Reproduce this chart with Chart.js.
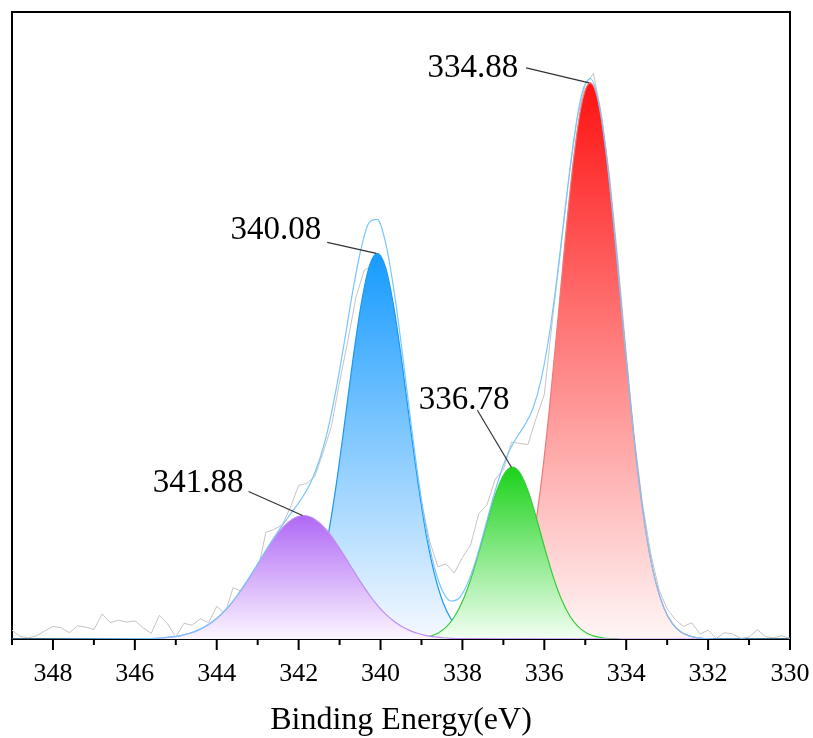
<!DOCTYPE html>
<html>
<head>
<meta charset="utf-8">
<script src="https://cdn.jsdelivr.net/npm/chart.js@4.4.1/dist/chart.umd.min.js"></script>
<style>
  html, body { margin: 0; padding: 0; background: #fff; }
  canvas { display: block; }
</style>
</head>
<body>
<canvas id="xps" width="813" height="738"></canvas>
<script>
// measured spectrum (grey)
const rawEnergy = [
  349.0, 348.8, 348.6, 348.4, 348.2, 348.0, 347.8, 347.6, 347.4, 347.2,
  347.0, 346.8, 346.6, 346.4, 346.2, 346.0, 345.8, 345.6, 345.4, 345.2,
  345.0, 344.8, 344.6, 344.4, 344.2, 344.0, 343.8, 343.6, 343.4, 343.2,
  343.0, 342.8, 342.6, 342.4, 342.2, 342.0, 341.8, 341.6, 341.4, 341.2,
  341.0, 340.8, 340.6, 340.4, 340.2, 340.0, 339.8, 339.6, 339.4, 339.2,
  339.0, 338.8, 338.6, 338.4, 338.2, 338.0, 337.8, 337.6, 337.4, 337.2,
  337.0, 336.8, 336.6, 336.4, 336.2, 336.0, 335.8, 335.6, 335.4, 335.2,
  335.0, 334.8, 334.6, 334.4, 334.2, 334.0, 333.8, 333.6, 333.4, 333.2,
  333.0, 332.8, 332.6, 332.4, 332.2, 332.0, 331.8, 331.6, 331.4, 331.2,
  331.0, 330.8, 330.6, 330.4, 330.2, 330.0
];
const rawCounts = [
  1.4, 0.4, 0.2, 0.5, 1.3, 2.0, 1.8, 1.0, 2.1, 1.9,
  1.5, 4.0, 2.6, 3.0, 2.7, 2.9, 1.8, 0.9, 3.8, 2.4,
  0.3, 2.5, 2.2, 3.2, 2.6, 5.2, 4.0, 8.2, 7.6, 9.4,
  10.8, 17.0, 17.5, 18.2, 21.0, 24.5, 24.8, 26.0, 29.8, 33.9,
  41.0, 47.5, 54.5, 58.8, 59.5, 59.0, 56.0, 48.5, 39.5, 30.0,
  22.0, 15.6, 11.5, 12.0, 10.5, 13.0, 15.0, 20.0, 21.4, 25.5,
  27.0, 31.4, 31.2, 31.0, 35.2, 39.0, 51.0, 62.0, 73.5, 83.0,
  88.4, 90.2, 83.5, 73.5, 60.2, 45.6, 32.0, 21.5, 13.6, 7.9,
  4.8, 3.1, 2.0, 2.6, 0.8, 1.4, 0.1, 1.0, 0.8, 0.1,
  0.3, 1.5, 0.4, 0.2, 0.5, 0.1
];

// fitted envelope (light blue)
const envEnergy = [
  349.0,
  345.68, 345.48, 345.28, 345.08, 344.88, 344.68, 344.48, 344.28, 344.08, 343.88,
  343.68, 343.48, 343.28, 343.08, 342.88, 342.68, 342.48, 342.28, 342.08, 341.88,
  341.68, 341.48, 341.28, 341.08, 340.88, 340.68, 340.48, 340.28, 340.08, 339.88,
  339.68, 339.48, 339.28, 339.08, 338.88, 338.68, 338.48, 338.28, 338.08, 337.88,
  337.68, 337.48, 337.28, 337.08, 336.88, 336.68, 336.48, 336.28, 336.08, 335.88,
  335.68, 335.48, 335.28, 335.08, 334.88, 334.68, 334.48, 334.28, 334.08, 333.88,
  333.68, 333.48, 333.28, 333.08, 332.88, 332.68, 332.48, 332.28, 332.08, 331.88,
  330.0
];
const envCounts = [
  0,
  0.06, 0.11, 0.20, 0.33, 0.55, 0.87, 1.33, 1.98, 2.86, 4.00,
  5.42, 7.10, 9.02, 11.10, 13.27, 15.39, 17.39, 19.22, 20.98, 22.89,
  25.33, 28.78, 33.57, 39.96, 47.52, 55.40, 62.12, 66.40, 66.92, 63.30,
  55.96, 46.28, 35.68, 25.69, 17.35, 11.32, 7.58, 6.06, 6.54, 8.77,
  12.39, 16.97, 21.81, 26.20, 29.65, 32.10, 34.11, 36.73, 41.32, 48.49,
  58.17, 69.29, 79.66, 87.04, 89.39, 85.90, 77.02, 64.45, 50.22, 36.5,
  24.7, 15.5, 9.11, 4.98, 2.53, 1.20, 0.53, 0.22, 0.08, 0.03,
  0
];

// fitted components
const redEnergy = [
  337.88, 337.68, 337.48, 337.28, 337.08, 336.88, 336.68, 336.48, 336.28, 336.08,
  335.88, 335.68, 335.48, 335.28, 335.08, 334.88, 334.68, 334.48, 334.28, 334.08,
  333.88, 333.68, 333.48, 333.28, 333.08, 332.88, 332.68, 332.48, 332.28, 332.08, 331.88
];
const redCounts = [
  0.03, 0.08, 0.22, 0.53, 1.20, 2.53, 4.98, 9.11, 15.5, 24.7,
  36.5, 50.2, 64.4, 76.9, 85.6, 88.7, 85.6, 76.9, 64.4, 50.2,
  36.5, 24.7, 15.5, 9.11, 4.98, 2.53, 1.20, 0.53, 0.22, 0.08, 0.03
];
const blueEnergy = [
  342.88, 342.68, 342.48, 342.28, 342.08, 341.88, 341.68, 341.48, 341.28, 341.08,
  340.88, 340.68, 340.48, 340.28, 340.08, 339.88, 339.68, 339.48, 339.28, 339.08,
  338.88, 338.68, 338.48, 338.28, 338.08, 337.88, 337.68, 337.48, 337.28
];
const blueCounts = [
  0.05, 0.13, 0.32, 0.74, 1.59, 3.19, 5.94, 10.3, 16.5, 24.7,
  34.3, 44.3, 53.1, 59.3, 61.5, 59.3, 53.1, 44.3, 34.3, 24.7,
  16.5, 10.3, 5.94, 3.19, 1.59, 0.74, 0.32, 0.13, 0.05
];
const greenEnergy = [
  339.38, 339.18, 338.98, 338.78, 338.58, 338.38, 338.18, 337.98, 337.78, 337.58,
  337.38, 337.18, 336.98, 336.78, 336.58, 336.38, 336.18, 335.98, 335.78, 335.58,
  335.38, 335.18, 334.98, 334.78, 334.58, 334.38, 334.18
];
const greenCounts = [
  0.03, 0.08, 0.20, 0.46, 1.01, 2.01, 3.71, 6.30, 9.87, 14.26,
  18.98, 23.3, 26.3, 27.4, 26.3, 23.3, 18.98, 14.26, 9.87, 6.30,
  3.71, 2.01, 1.01, 0.46, 0.20, 0.08, 0.03
];
const purpleEnergy = [
  345.68, 345.48, 345.28, 345.08, 344.88, 344.68, 344.48, 344.28, 344.08, 343.88,
  343.68, 343.48, 343.28, 343.08, 342.88, 342.68, 342.48, 342.28, 342.08, 341.88,
  341.68, 341.48, 341.28, 341.08, 340.88, 340.68, 340.48, 340.28, 340.08, 339.88,
  339.68, 339.48, 339.28, 339.08, 338.88, 338.68, 338.48, 338.28, 338.08, 332.0
];
const purpleCounts = [
  0.06, 0.11, 0.20, 0.33, 0.55, 0.87, 1.33, 1.98, 2.86, 4.00,
  5.42, 7.10, 9.02, 11.10, 13.22, 15.26, 17.07, 18.48, 19.39, 19.7,
  19.39, 18.48, 17.07, 15.26, 13.22, 11.10, 9.02, 7.10, 5.42, 4.00,
  2.86, 1.98, 1.33, 0.87, 0.55, 0.33, 0.20, 0.11, 0.06, 0
];

// peak labels
const peakLabels = ['334.88', '340.08', '336.78', '341.88'];
const peakEnergy = [334.88, 340.08, 336.78, 341.88];
const peakCounts = [88.7, 61.5, 27.4, 19.7];

const xTicks = [348, 346, 344, 342, 340, 338, 336, 334, 332, 330];

const pts = (xs, ys) => xs.map((x, i) => ({ x: x, y: ys[i] }));

// gradient fill from the peak top down to the baseline
function peakFill(top, bottom, peak) {
  return (c) => {
    const chart = c.chart;
    const area = chart.chartArea;
    if (!area) return top;
    const yTop = chart.scales.y.getPixelForValue(peak);
    const g = chart.ctx.createLinearGradient(0, yTop, 0, area.bottom);
    g.addColorStop(0, top);
    g.addColorStop(1, bottom);
    return g;
  };
}

// frame + tick marks
const framePlugin = {
  id: 'frame',
  beforeDatasetsDraw(chart) {
    const { ctx, chartArea: a } = chart;
    ctx.save();
    ctx.strokeStyle = '#000';
    ctx.lineWidth = 2;
    ctx.strokeRect(a.left, a.top, a.right - a.left, a.bottom - a.top);
    const sx = chart.scales.x;
    sx.ticks.forEach(t => {
      const px = sx.getPixelForValue(t.value);
      const len = t.value % 2 === 0 ? 11 : 6;
      ctx.beginPath();
      ctx.moveTo(px, a.bottom);
      ctx.lineTo(px, a.bottom + len);
      ctx.stroke();
    });
    ctx.restore();
  }
};

// peak value callouts
const calloutOffsets = [
  { tx: -72, ty: -15, lx: -64, ly: -15 },
  { tx: -56, ty: -23, lx: -50, ly: -11 },
  { tx: -3, ty: -67, lx: -35, ly: -57 },
  { tx: -60, ty: -32, lx: -55, ly: -24 }
];
const calloutPlugin = {
  id: 'callouts',
  afterDatasetsDraw(chart) {
    const { ctx } = chart;
    const sx = chart.scales.x, sy = chart.scales.y;
    ctx.save();
    ctx.font = '33px "Liberation Serif", "Times New Roman", serif';
    ctx.textAlign = 'right';
    ctx.textBaseline = 'middle';
    peakLabels.forEach((lbl, i) => {
      const px = sx.getPixelForValue(peakEnergy[i]);
      const py = sy.getPixelForValue(peakCounts[i]);
      const o = calloutOffsets[i];
      ctx.strokeStyle = '#333';
      ctx.lineWidth = 1.2;
      ctx.beginPath();
      ctx.moveTo(px + o.lx, py + o.ly);
      ctx.lineTo(px - 1, py);
      ctx.stroke();
      ctx.fillStyle = '#000';
      ctx.fillText(lbl, px + o.tx, py + o.ty);
    });
    ctx.restore();
  }
};

const lineBase = {
  pointRadius: 0,
  borderWidth: 1.2,
  cubicInterpolationMode: 'monotone'
};

new Chart(document.getElementById('xps'), {
  type: 'line',
  data: {
    datasets: [
      Object.assign({}, lineBase, {
        label: 'Envelope',
        data: pts(envEnergy, envCounts),
        borderColor: '#78c6ff',
        fill: false
      }),
      Object.assign({}, lineBase, {
        label: '341.88',
        data: pts(purpleEnergy, purpleCounts),
        borderColor: '#bf8cf2',
        backgroundColor: peakFill('rgb(176,104,245)', 'rgb(251,246,255)', 19.7),
        fill: 'origin'
      }),
      Object.assign({}, lineBase, {
        label: '336.78',
        data: pts(greenEnergy, greenCounts),
        borderColor: '#36cc36',
        backgroundColor: peakFill('rgb(26,210,26)', 'rgb(243,255,243)', 27.4),
        fill: 'origin'
      }),
      Object.assign({}, lineBase, {
        label: '340.08',
        data: pts(blueEnergy, blueCounts),
        borderColor: '#1a98f2',
        backgroundColor: peakFill('rgb(22,155,255)', 'rgb(246,249,255)', 61.5),
        fill: 'origin'
      }),
      Object.assign({}, lineBase, {
        label: '334.88',
        data: pts(redEnergy, redCounts),
        borderColor: '#f07a7a',
        backgroundColor: peakFill('rgb(255,18,18)', 'rgb(255,246,246)', 88.7),
        fill: 'origin'
      }),
      {
        label: 'Raw',
        data: pts(rawEnergy, rawCounts),
        borderColor: '#c4c4c4',
        borderWidth: 1,
        pointRadius: 0,
        tension: 0,
        fill: false
      }
    ]
  },
  options: {
    responsive: false,
    animation: false,
    layout: { padding: { left: 12, right: 23, top: 12, bottom: 0 } },
    plugins: {
      legend: { display: false },
      tooltip: { enabled: false }
    },
    scales: {
      x: {
        type: 'linear',
        min: 330,
        max: 349,
        reverse: true,
        grid: { display: false, drawTicks: false },
        border: { display: false },
        afterFit(scale) {
          scale.height = 99;
          scale.paddingLeft = 0;
          scale.paddingRight = 0;
        },
        ticks: {
          stepSize: 1,
          autoSkip: false,
          maxRotation: 0,
          padding: 20,
          color: '#000',
          font: { family: '"Liberation Serif", "Times New Roman", serif', size: 26 },
          callback: (v) => xTicks.includes(v) ? String(v) : ''
        },
        title: {
          display: true,
          text: 'Binding Energy(eV)',
          color: '#000',
          padding: { top: 0, bottom: 0 },
          font: { family: '"Liberation Serif", "Times New Roman", serif', size: 32, lineHeight: 1.1 }
        }
      },
      y: {
        display: false,
        min: 0,
        max: 100
      }
    }
  },
  plugins: [framePlugin, calloutPlugin]
});
</script>
</body>
</html>
